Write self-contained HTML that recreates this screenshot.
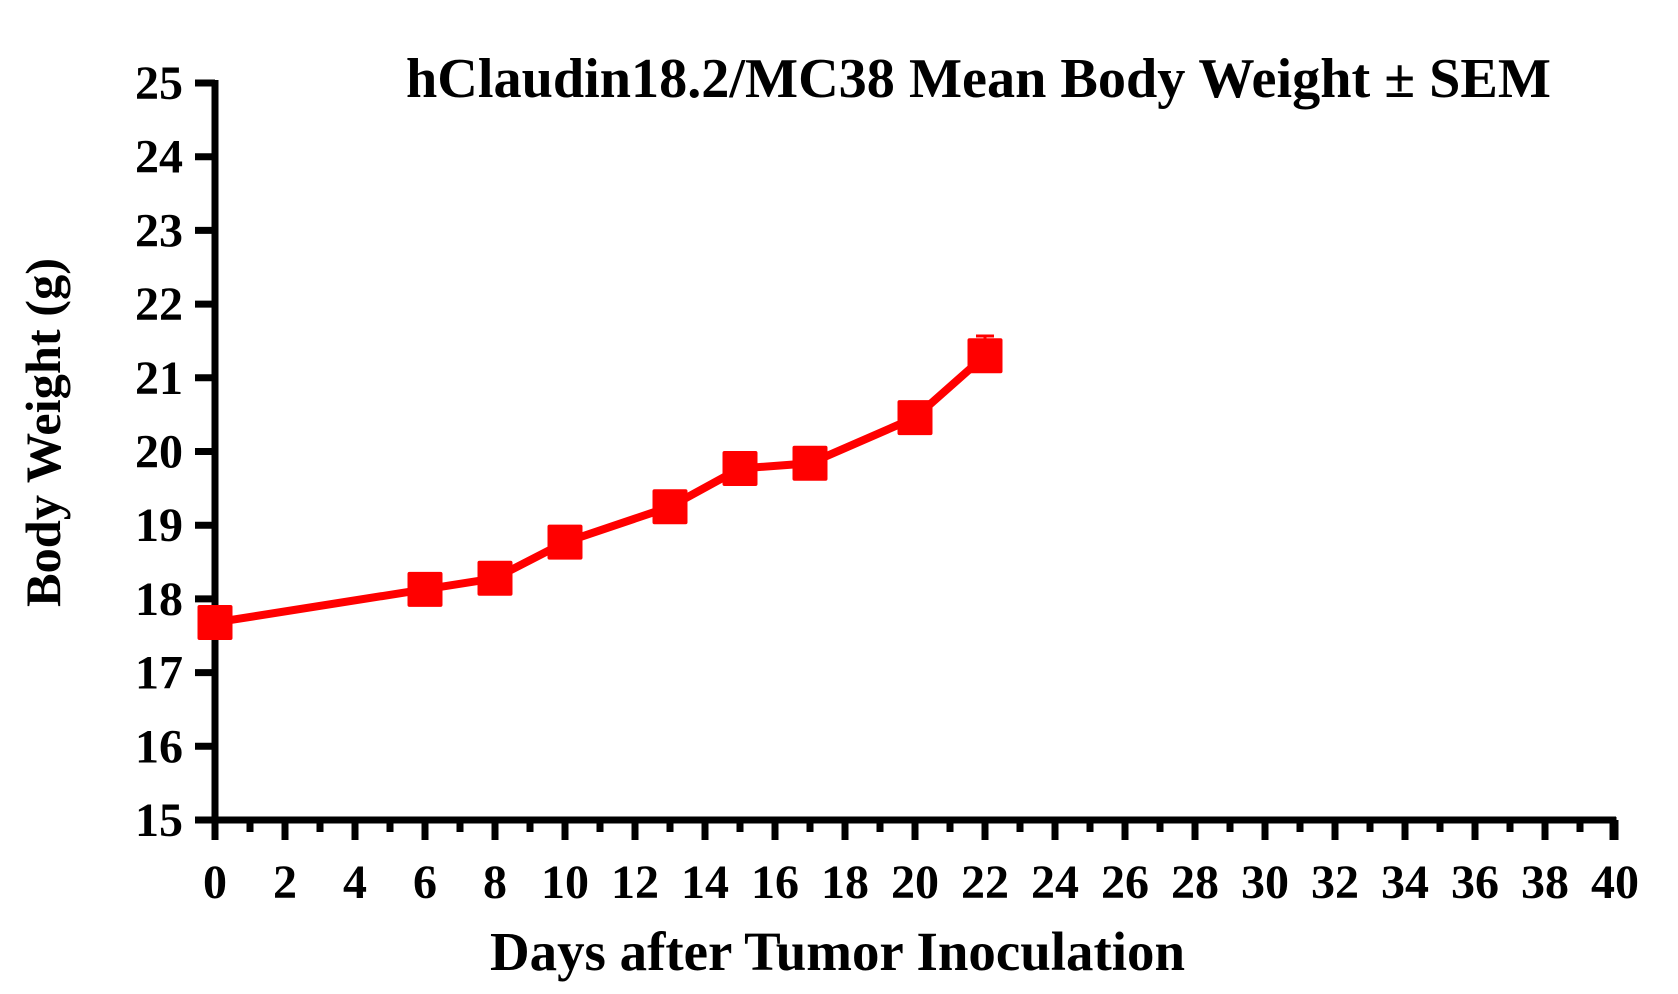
<!DOCTYPE html>
<html><head><meta charset="utf-8"><style>html,body{margin:0;padding:0;background:#fff}svg{display:block}</style></head>
<body>
<svg width="1678" height="994" viewBox="0 0 1678 994" xmlns="http://www.w3.org/2000/svg" font-family="Liberation Serif, serif" font-weight="bold">
<text x="406" y="97" font-size="56" textLength="1145" lengthAdjust="spacingAndGlyphs">hClaudin18.2/MC38 Mean Body Weight ± SEM</text>
<text x="490" y="970" font-size="55" textLength="695" lengthAdjust="spacingAndGlyphs">Days after Tumor Inoculation</text>
<text transform="translate(60,607) rotate(-90)" font-size="50" textLength="349" lengthAdjust="spacingAndGlyphs">Body Weight (g)</text>
<g stroke="#000" stroke-width="7" fill="none">
<line x1="215" y1="80" x2="215" y2="824"/>
<line x1="211" y1="820" x2="1616" y2="820"/>
<line x1="1613" y1="817" x2="1613" y2="840"/>
</g>
<g id="yt" stroke="#000" stroke-width="7"></g>
<g id="xt" stroke="#000" stroke-width="7"></g>
<g id="yl" font-size="48" text-anchor="end"></g>
<g id="xl" font-size="48" text-anchor="middle"></g>
<g id="d"></g>
<script>
var ns="http://www.w3.org/2000/svg";
function el(p,t,a,txt){var e=document.createElementNS(ns,t);for(var k in a)e.setAttribute(k,a[k]);if(txt!=null)e.textContent=txt;document.getElementById(p).appendChild(e);}
for(var v=15;v<=25;v++){var y=820-(v-15)*73.7;el('yt','line',{x1:195,y1:y,x2:215,y2:y});el('yl','text',{x:183,y:y+16},v);}
for(var d=0;d<=40;d++){var x=215+d*35;if(d%2==0){el('xt','line',{x1:x,y1:820,x2:x,y2:840});el('xl','text',{x:x,y:898},d);}else el('xt','line',{x1:x,y1:820,x2:x,y2:832});}
var D=[0,6,8,10,13,15,17,20,22],V=[17.68,18.13,18.28,18.77,19.25,19.77,19.84,20.46,21.3];
var pts=D.map(function(d,i){return [215+d*35,820-(V[i]-15)*73.7];});
el('d','line',{x1:pts[8][0],y1:pts[8][1],x2:pts[8][0],y2:336,stroke:'#f00','stroke-width':3});
el('d','line',{x1:pts[8][0]-9,y1:336,x2:pts[8][0]+9,y2:336,stroke:'#f00','stroke-width':3});
el('d','polyline',{points:pts.map(function(p){return p.join(',')}).join(' '),fill:'none',stroke:'#f00','stroke-width':8});
pts.forEach(function(p){el('d','rect',{x:p[0]-17.5,y:p[1]-17.5,width:35,height:35,rx:2,fill:'#f00'});});
</script>
</svg>
</body></html>
